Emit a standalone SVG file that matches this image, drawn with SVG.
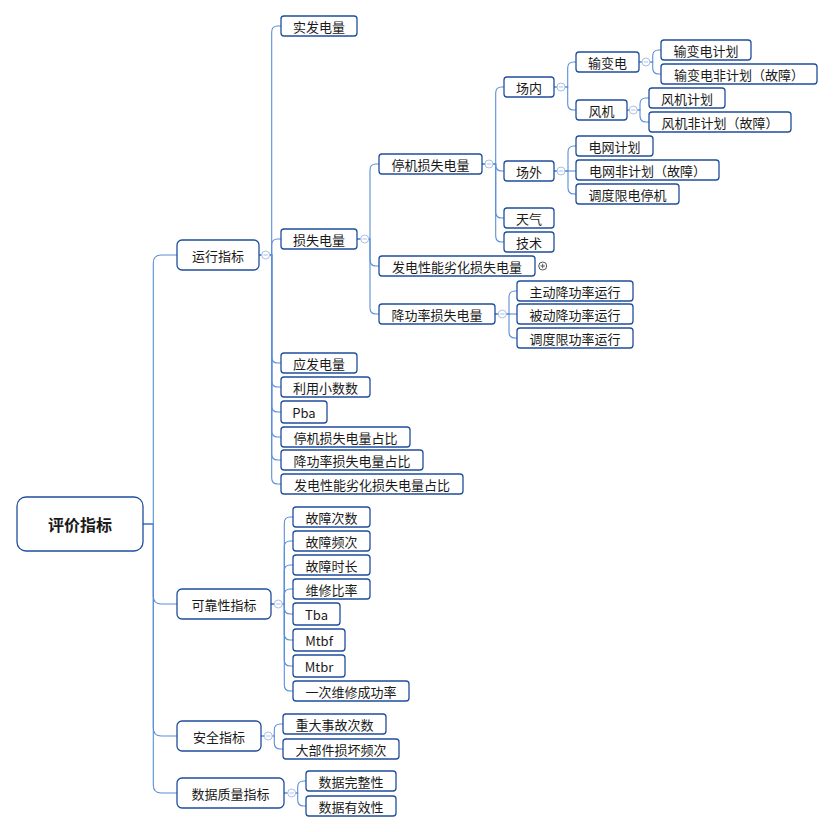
<svg xmlns="http://www.w3.org/2000/svg" width="834" height="832" viewBox="0 0 834 832">
<style>
.bg{fill:#ffffff}
.box{fill:#ffffff;stroke:#1f4e9d;stroke-width:1.3}
.t{font-family:"Noto Sans CJK SC","Liberation Sans",sans-serif;font-size:13px;fill:#1a1a1a;text-anchor:middle;dominant-baseline:central}
.root{font-size:16px;font-weight:bold}
.c{fill:none;stroke:#5b8ed6;stroke-width:1.1}
.mi{fill:#ffffff;stroke:#a9c0e6;stroke-width:1}
.mil{stroke:#a9c0e6;stroke-width:1}
.pl{fill:#ffffff;stroke:#555555;stroke-width:1}
.pll{stroke:#555555;stroke-width:1}
</style>
<rect class="bg" x="0" y="0" width="834" height="832"/>
<g id="connectors">
<!-- root -->
<path class="c" d="M143,524 H153.3 V263 Q153.3,255 161.3,255 H177"/>
<path class="c" d="M143,524 H153.3 V596 Q153.3,604 161.3,604 H177"/>
<path class="c" d="M143,524 H153.3 V728 Q153.3,736 161.3,736 H177"/>
<path class="c" d="M143,524 H153.3 V785 Q153.3,793 161.3,793 H177"/>
<!-- 运行指标 -->
<path class="c" d="M259,255 H271.7 V32 Q271.7,26 277.7,26 H281"/>
<path class="c" d="M259,255 H271.7 V245 Q271.7,239 277.7,239 H281"/>
<path class="c" d="M259,255 H271.7 V357 Q271.7,363 277.7,363 H281"/>
<path class="c" d="M259,255 H271.7 V381 Q271.7,387 277.7,387 H281"/>
<path class="c" d="M259,255 H271.7 V406 Q271.7,412 277.7,412 H281"/>
<path class="c" d="M259,255 H271.7 V431 Q271.7,437 277.7,437 H281"/>
<path class="c" d="M259,255 H271.7 V454 Q271.7,460 277.7,460 H281"/>
<path class="c" d="M259,255 H271.7 V478 Q271.7,484 277.7,484 H281"/>
<!-- 损失电量 -->
<path class="c" d="M357,239 H370 V170 Q370,164 376,164 H379"/>
<path class="c" d="M357,239 H370 V260 Q370,266 376,266 H379"/>
<path class="c" d="M357,239 H370 V308 Q370,314 376,314 H379"/>
<!-- 停机损失电量 -->
<path class="c" d="M482,164 H495.7 V93 Q495.7,87 501.7,87 H504"/>
<path class="c" d="M482,164 H495.7 V165 Q495.7,171 501.7,171 H504"/>
<path class="c" d="M482,164 H495.7 V212 Q495.7,218 501.7,218 H504"/>
<path class="c" d="M482,164 H495.7 V236 Q495.7,242 501.7,242 H504"/>
<!-- 降功率损失电量 -->
<path class="c" d="M495,314 H509 V297 Q509,291 515,291 H517"/>
<path class="c" d="M495,314 H517"/>
<path class="c" d="M495,314 H509 V332 Q509,338 515,338 H517"/>
<!-- 场内 -->
<path class="c" d="M554,87 H567.7 V68 Q567.7,62 573.7,62 H576"/>
<path class="c" d="M554,87 H567.7 V104 Q567.7,110 573.7,110 H576"/>
<!-- 输变电 -->
<path class="c" d="M639,62 H652.7 V56 Q652.7,50 658.7,50 H661"/>
<path class="c" d="M639,62 H652.7 V68 Q652.7,74 658.7,74 H661"/>
<!-- 风机 -->
<path class="c" d="M627,110 H640 V104 Q640,98 646,98 H649"/>
<path class="c" d="M627,110 H640 V116 Q640,122 646,122 H649"/>
<!-- 场外 -->
<path class="c" d="M554,171 H568 V152 Q568,146 574,146 H576"/>
<path class="c" d="M554,171 H576"/>
<path class="c" d="M554,171 H568 V188 Q568,194 574,194 H576"/>
<!-- 可靠性指标 -->
<path class="c" d="M271,604 H284.3 V523 Q284.3,517 290.3,517 H293"/>
<path class="c" d="M271,604 H284.3 V547 Q284.3,541 290.3,541 H293"/>
<path class="c" d="M271,604 H284.3 V571 Q284.3,565 290.3,565 H293"/>
<path class="c" d="M271,604 H284.3 V595 Q284.3,589 290.3,589 H293"/>
<path class="c" d="M271,604 H284.3 V608 Q284.3,614 290.3,614 H293"/>
<path class="c" d="M271,604 H284.3 V634 Q284.3,640 290.3,640 H293"/>
<path class="c" d="M271,604 H284.3 V660 Q284.3,666 290.3,666 H293"/>
<path class="c" d="M271,604 H284.3 V685 Q284.3,691 290.3,691 H293"/>
<!-- 安全指标 -->
<path class="c" d="M261,736 H274.3 V730 Q274.3,724 280.3,724 H283"/>
<path class="c" d="M261,736 H274.3 V743 Q274.3,749 280.3,749 H283"/>
<!-- 数据质量指标 -->
<path class="c" d="M284,793 H297.7 V787 Q297.7,781 303.7,781 H306"/>
<path class="c" d="M284,793 H297.7 V800 Q297.7,806 303.7,806 H306"/>
</g>

<g id="n-root"><rect class="box" x="17" y="497" width="126" height="54" rx="9"/><text class="t root" x="80" y="524">评价指标</text></g>

<g id="n-yunxing"><rect class="box" x="177" y="240" width="82" height="30" rx="5"/><text class="t" x="218" y="255">运行指标</text></g>
<g id="n-kekao"><rect class="box" x="177" y="589" width="94" height="30" rx="5"/><text class="t" x="224" y="604">可靠性指标</text></g>
<g id="n-anquan"><rect class="box" x="177" y="721" width="84" height="30" rx="5"/><text class="t" x="219" y="736">安全指标</text></g>
<g id="n-shuju"><rect class="box" x="177" y="778" width="107" height="30" rx="5"/><text class="t" x="230.5" y="793">数据质量指标</text></g>

<g id="n-shifa"><rect class="box" x="281" y="16" width="76" height="20" rx="3"/><text class="t" x="319" y="26">实发电量</text></g>
<g id="n-sunshi"><rect class="box" x="281" y="229" width="76" height="20" rx="3"/><text class="t" x="319" y="239">损失电量</text></g>
<g id="n-yingfa"><rect class="box" x="281" y="353" width="76" height="20" rx="3"/><text class="t" x="319" y="363">应发电量</text></g>
<g id="n-liyong"><rect class="box" x="281" y="377" width="89" height="20" rx="3"/><text class="t" x="325.5" y="387">利用小数数</text></g>
<g id="n-pba"><rect class="box" x="281" y="401" width="46" height="22" rx="3"/><text class="t" x="304" y="412">Pba</text></g>
<g id="n-tjzb"><rect class="box" x="281" y="427" width="129" height="20" rx="3"/><text class="t" x="345.5" y="437">停机损失电量占比</text></g>
<g id="n-jglzb"><rect class="box" x="281" y="450" width="142" height="20" rx="3"/><text class="t" x="352" y="460">降功率损失电量占比</text></g>
<g id="n-fdzb"><rect class="box" x="281" y="474" width="182" height="20" rx="3"/><text class="t" x="372" y="484">发电性能劣化损失电量占比</text></g>

<g id="n-tingji"><rect class="box" x="379" y="154" width="103" height="20" rx="3"/><text class="t" x="430.5" y="164">停机损失电量</text></g>
<g id="n-fadian"><rect class="box" x="379" y="256" width="156" height="20" rx="3"/><text class="t" x="457" y="266">发电性能劣化损失电量</text></g>
<g id="n-jianggl"><rect class="box" x="379" y="304" width="116" height="20" rx="3"/><text class="t" x="437" y="314">降功率损失电量</text></g>

<g id="n-changnei"><rect class="box" x="504" y="77" width="50" height="20" rx="3"/><text class="t" x="529" y="87">场内</text></g>
<g id="n-changwai"><rect class="box" x="504" y="161" width="50" height="20" rx="3"/><text class="t" x="529" y="171">场外</text></g>
<g id="n-tianqi"><rect class="box" x="504" y="208" width="50" height="20" rx="3"/><text class="t" x="529" y="218">天气</text></g>
<g id="n-jishu"><rect class="box" x="504" y="232" width="50" height="20" rx="3"/><text class="t" x="529" y="242">技术</text></g>

<g id="n-zhudong"><rect class="box" x="517" y="281" width="116" height="20" rx="3"/><text class="t" x="575" y="291">主动降功率运行</text></g>
<g id="n-beidong"><rect class="box" x="517" y="304" width="116" height="20" rx="3"/><text class="t" x="575" y="314">被动降功率运行</text></g>
<g id="n-diaodugl"><rect class="box" x="517" y="328" width="116" height="20" rx="3"/><text class="t" x="575" y="338">调度限功率运行</text></g>

<g id="n-shubian"><rect class="box" x="576" y="52" width="63" height="20" rx="3"/><text class="t" x="607.5" y="62">输变电</text></g>
<g id="n-fengji"><rect class="box" x="576" y="100" width="51" height="20" rx="3"/><text class="t" x="601.5" y="110">风机</text></g>
<g id="n-sbjh"><rect class="box" x="661" y="40" width="90" height="20" rx="3"/><text class="t" x="706" y="50">输变电计划</text></g>
<g id="n-sbfjh"><rect class="box" x="661" y="64" width="156" height="20" rx="3"/><text class="t" x="739" y="74">输变电非计划（故障）</text></g>
<g id="n-fjjh"><rect class="box" x="649" y="88" width="76" height="20" rx="3"/><text class="t" x="687" y="98">风机计划</text></g>
<g id="n-fjfjh"><rect class="box" x="649" y="112" width="142" height="20" rx="3"/><text class="t" x="720" y="122">风机非计划（故障）</text></g>

<g id="n-dwjh"><rect class="box" x="576" y="136" width="77" height="20" rx="3"/><text class="t" x="614.5" y="146">电网计划</text></g>
<g id="n-dwfjh"><rect class="box" x="576" y="160" width="143" height="20" rx="3"/><text class="t" x="647.5" y="170">电网非计划（故障）</text></g>
<g id="n-ddxd"><rect class="box" x="576" y="184" width="103" height="20" rx="3"/><text class="t" x="627.5" y="194">调度限电停机</text></g>

<g id="n-gzcs"><rect class="box" x="293" y="507" width="77" height="20" rx="3"/><text class="t" x="331.5" y="517">故障次数</text></g>
<g id="n-gzpc"><rect class="box" x="293" y="531" width="77" height="20" rx="3"/><text class="t" x="331.5" y="541">故障频次</text></g>
<g id="n-gzsc"><rect class="box" x="293" y="555" width="77" height="20" rx="3"/><text class="t" x="331.5" y="565">故障时长</text></g>
<g id="n-wxbl"><rect class="box" x="293" y="579" width="77" height="20" rx="3"/><text class="t" x="331.5" y="589">维修比率</text></g>
<g id="n-tba"><rect class="box" x="293" y="603" width="47" height="22" rx="3"/><text class="t" x="316.5" y="614">Tba</text></g>
<g id="n-mtbf"><rect class="box" x="293" y="629" width="52" height="22" rx="3"/><text class="t" x="319" y="640">Mtbf</text></g>
<g id="n-mtbr"><rect class="box" x="293" y="655" width="52" height="22" rx="3"/><text class="t" x="319" y="666">Mtbr</text></g>
<g id="n-ycwx"><rect class="box" x="293" y="681" width="116" height="20" rx="3"/><text class="t" x="351" y="691">一次维修成功率</text></g>

<g id="n-zdsg"><rect class="box" x="283" y="714" width="103" height="20" rx="3"/><text class="t" x="334.5" y="724">重大事故次数</text></g>
<g id="n-dbj"><rect class="box" x="283" y="739" width="116" height="20" rx="3"/><text class="t" x="341" y="749">大部件损坏频次</text></g>

<g id="n-wzx"><rect class="box" x="306" y="771" width="90" height="20" rx="3"/><text class="t" x="351" y="781">数据完整性</text></g>
<g id="n-yxx"><rect class="box" x="306" y="796" width="90" height="20" rx="3"/><text class="t" x="351" y="806">数据有效性</text></g>

<g id="toggles">
<circle class="mi" cx="265.7" cy="255" r="4"/><line class="mil" x1="263.5" y1="255" x2="267.9" y2="255"/>
<circle class="mi" cx="364.7" cy="239" r="4"/><line class="mil" x1="362.5" y1="239" x2="366.9" y2="239"/>
<circle class="mi" cx="489" cy="164" r="4"/><line class="mil" x1="486.8" y1="164" x2="491.2" y2="164"/>
<circle class="mi" cx="502.3" cy="314" r="4"/><line class="mil" x1="500.1" y1="314" x2="504.5" y2="314"/>
<circle class="mi" cx="561" cy="87" r="4"/><line class="mil" x1="558.8" y1="87" x2="563.2" y2="87"/>
<circle class="mi" cx="561" cy="171" r="4"/><line class="mil" x1="558.8" y1="171" x2="563.2" y2="171"/>
<circle class="mi" cx="646" cy="62" r="4"/><line class="mil" x1="643.8" y1="62" x2="648.2" y2="62"/>
<circle class="mi" cx="633.3" cy="110" r="4"/><line class="mil" x1="631.1" y1="110" x2="635.5" y2="110"/>
<circle class="mi" cx="278.3" cy="604" r="4"/><line class="mil" x1="276.1" y1="604" x2="280.5" y2="604"/>
<circle class="mi" cx="268.3" cy="736" r="4"/><line class="mil" x1="266.1" y1="736" x2="270.5" y2="736"/>
<circle class="mi" cx="291.7" cy="793" r="4"/><line class="mil" x1="289.5" y1="793" x2="293.9" y2="793"/>
<circle class="pl" cx="542.7" cy="266" r="4"/><line class="pll" x1="540.5" y1="266" x2="544.9" y2="266"/><line class="pll" x1="542.7" y1="263.8" x2="542.7" y2="268.2"/>
</g>
</svg>
